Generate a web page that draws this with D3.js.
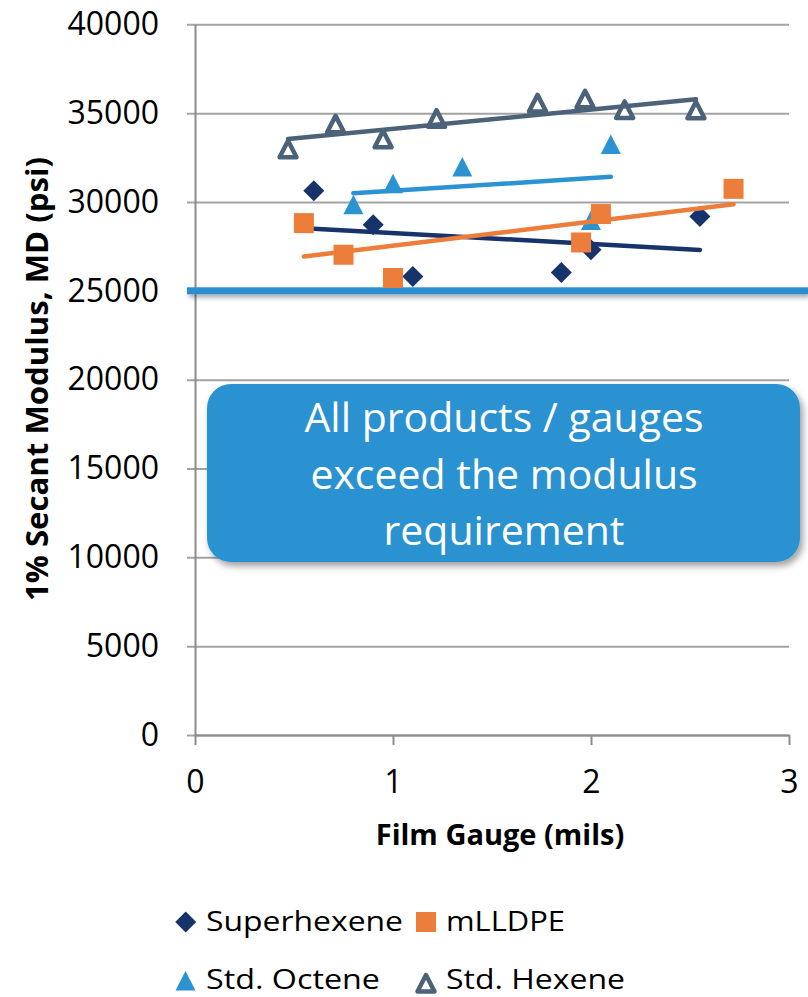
<!DOCTYPE html>
<html>
<head>
<meta charset="utf-8">
<script src="https://cdn.jsdelivr.net/npm/d3@7/dist/d3.min.js"></script>
<style>
  html, body { margin: 0; padding: 0; background: #ffffff; }
  svg { display: block; font-family: "Open Sans", sans-serif; }
</style>
</head>
<body>
<svg id="chart" width="808" height="997"></svg>
<script>
// ---- data ----
const seriesNames = ["Superhexene", "mLLDPE", "Std. Octene", "Std. Hexene"];
const superhexeneX = [0.60, 0.90, 1.10, 1.85, 2.00, 2.55];
const superhexeneY = [30630, 28720, 25810, 26030, 27310, 29180];
const mlldpeX = [0.55, 0.75, 1.00, 1.95, 2.05, 2.72];
const mlldpeY = [28810, 27030, 25720, 27720, 29320, 30740];
const octeneX = [0.80, 1.00, 1.35, 2.00, 2.10];
const octeneY = [29790, 30970, 31910, 28900, 33180];
const hexeneX = [0.47, 0.71, 0.95, 1.22, 1.73, 1.97, 2.17, 2.53];
const hexeneY = [32940, 34340, 33500, 34660, 35520, 35750, 35150, 35130];
const requirement = 25000;
const xTicks = [0, 1, 2, 3];
const yTicks = [0, 5000, 10000, 15000, 20000, 25000, 30000, 35000, 40000];
const calloutLines = ["All products / gauges", "exceed the modulus", "requirement"];
const xTitle = "Film Gauge (mils)";
const yTitle = "1% Secant Modulus, MD (psi)";

// ---- styles ----
const colors = {
  "Superhexene": "#17336B",
  "mLLDPE": "#ED7D3A",
  "Std. Octene": "#2C93D3",
  "Std. Hexene": "#4B6279"
};
const reqColor = "#2B8FD0";
const boxColor = "#2B92D0";
const gridColor = "#A3A3A3";

const svg = d3.select("#chart");
const defs = svg.append("defs");
const sh = defs.append("filter").attr("id", "shadow")
  .attr("x", "-10%").attr("y", "-20%").attr("width", "130%").attr("height", "150%");
sh.append("feDropShadow").attr("dx", 3).attr("dy", 4).attr("stdDeviation", 3.5)
  .attr("flood-color", "#000").attr("flood-opacity", 0.38);
const sh2 = defs.append("filter").attr("id", "lineShadow")
  .attr("filterUnits", "userSpaceOnUse")
  .attr("x", 170).attr("y", 270).attr("width", 660).attr("height", 45);
sh2.append("feDropShadow").attr("dx", 2).attr("dy", 3).attr("stdDeviation", 2.5)
  .attr("flood-color", "#000").attr("flood-opacity", 0.35);

const x = d3.scaleLinear().domain([0, 3]).range([195, 789]);
const y = d3.scaleLinear().domain([0, 40000]).range([735, 24.3]);

// gridlines + y tick labels
const yGrid = svg.append("g").attr("transform", "translate(187,0)")
  .call(d3.axisLeft(y).tickValues(yTicks).tickFormat(d3.format("d"))
    .tickSizeInner(-(x.range()[1] - 187)).tickSizeOuter(0).tickPadding(28));
yGrid.select(".domain").remove();
yGrid.selectAll(".tick line").attr("stroke", gridColor).attr("stroke-width", 2);
yGrid.selectAll(".tick text").attr("font-size", 32).attr("fill", "#000")
  .attr("font-family", "'Open Sans', sans-serif");

// y axis line
const yAx = svg.append("g").attr("transform", `translate(${x(0)},0)`)
  .call(d3.axisLeft(y).tickValues([]).tickSizeOuter(0));
yAx.select(".domain").attr("stroke", "#8C8C8C").attr("stroke-width", 2);

// x axis
const xAx = svg.append("g").attr("transform", `translate(0,${y(0)})`)
  .call(d3.axisBottom(x).tickValues(xTicks).tickFormat(d3.format("d"))
    .tickSizeInner(10).tickSizeOuter(0).tickPadding(25));
xAx.select(".domain").attr("stroke", "#8C8C8C").attr("stroke-width", 2);
xAx.selectAll(".tick line").attr("stroke", "#8C8C8C").attr("stroke-width", 2);
xAx.selectAll(".tick text").attr("font-size", 32).attr("fill", "#000")
  .attr("font-family", "'Open Sans', sans-serif");

// axis titles
svg.append("text").attr("x", 500).attr("y", 845).attr("text-anchor", "middle")
  .attr("font-size", 29).attr("font-weight", "bold").attr("fill", "#000").text(xTitle);
svg.append("text").attr("transform", "translate(48,379) rotate(-90)")
  .attr("text-anchor", "middle").attr("font-size", 31).attr("font-weight", "bold")
  .attr("textLength", 444).attr("lengthAdjust", "spacingAndGlyphs")
  .attr("fill", "#000").text(yTitle);

// callout box
const box = svg.append("g");
box.append("rect").attr("x", 207).attr("y", 384).attr("width", 593).attr("height", 178)
  .attr("rx", 24).attr("ry", 24).attr("fill", boxColor).attr("filter", "url(#shadow)");
box.selectAll("text.callout").data(calloutLines).join("text").attr("class", "callout")
  .attr("x", 504).attr("y", (d, i) => 432 + i * 56.7)
  .attr("text-anchor", "middle").attr("font-size", 41).attr("fill", "#fff").text(d => d);

// requirement line
svg.append("rect").attr("x", 187).attr("width", 808 - 187)
  .attr("y", y(requirement) - 3.5).attr("height", 7)
  .attr("fill", reqColor).attr("filter", "url(#lineShadow)");

// series
const series = [
  { name: "Superhexene", xs: superhexeneX, ys: superhexeneY, shape: "diamond" },
  { name: "Std. Octene", xs: octeneX, ys: octeneY, shape: "triangle" },
  { name: "Std. Hexene", xs: hexeneX, ys: hexeneY, shape: "openTriangle" },
  { name: "mLLDPE", xs: mlldpeX, ys: mlldpeY, shape: "square" }
];

function regression(xs, ys) {
  const n = xs.length;
  const mx = d3.mean(xs), my = d3.mean(ys);
  let sxy = 0, sxx = 0;
  for (let i = 0; i < n; i++) { sxy += (xs[i] - mx) * (ys[i] - my); sxx += (xs[i] - mx) ** 2; }
  const b = sxy / sxx, a = my - b * mx;
  return v => a + b * v;
}

function markerPath(shape) {
  if (shape === "diamond") return "M0,-10.5L10.5,0L0,10.5L-10.5,0Z";
  if (shape === "square") return "M-10,-10H10V10H-10Z";
  if (shape === "triangle") return "M0,-11L10,8.5L-10,8.5Z";
  if (shape === "openTriangle") return "M0,-9L8.5,7.5L-8.5,7.5Z";
}

function drawMarker(g, shape, color) {
  const p = g.append("path").attr("d", markerPath(shape));
  if (shape === "openTriangle") {
    p.attr("fill", "#fff").attr("stroke", color).attr("stroke-width", 4.5)
      .attr("stroke-linejoin", "round");
  } else {
    p.attr("fill", color);
  }
}

series.forEach(s => {
  const col = colors[s.name];
  const g = svg.append("g");
  const pts = s.xs.map((v, i) => [v, s.ys[i]]);
  pts.forEach(p => {
    const mg = g.append("g").attr("transform", `translate(${x(p[0])},${y(p[1])})`);
    drawMarker(mg, s.shape, col);
  });
  const f = regression(s.xs, s.ys);
  const ext = d3.extent(s.xs);
  g.append("path")
    .attr("d", d3.line()([[x(ext[0]), y(f(ext[0]))], [x(ext[1]), y(f(ext[1]))]]))
    .attr("stroke", col).attr("stroke-width", 4.5).attr("stroke-linecap", "round")
    .attr("fill", "none");
});

// legend
const legendItems = [
  { name: "Superhexene", shape: "diamond", mx: 185.7, my: 922, tx: 206, ty: 931, w: 197 },
  { name: "mLLDPE", shape: "square", mx: 426, my: 922, tx: 446, ty: 931, w: 119 },
  { name: "Std. Octene", shape: "triangle", mx: 185.5, my: 982, tx: 206, ty: 989, w: 174 },
  { name: "Std. Hexene", shape: "openTriangle", mx: 426, my: 984, tx: 446, ty: 989, w: 179 }
];
const lg = svg.append("g");
legendItems.forEach(it => {
  const mg = lg.append("g").attr("transform", `translate(${it.mx},${it.my})`);
  drawMarker(mg, it.shape, colors[it.name]);
  lg.append("text").attr("x", it.tx).attr("y", it.ty).attr("font-size", 28)
    .attr("fill", "#000").attr("textLength", it.w).attr("lengthAdjust", "spacingAndGlyphs")
    .text(it.name);
});
</script>
</body>
</html>
